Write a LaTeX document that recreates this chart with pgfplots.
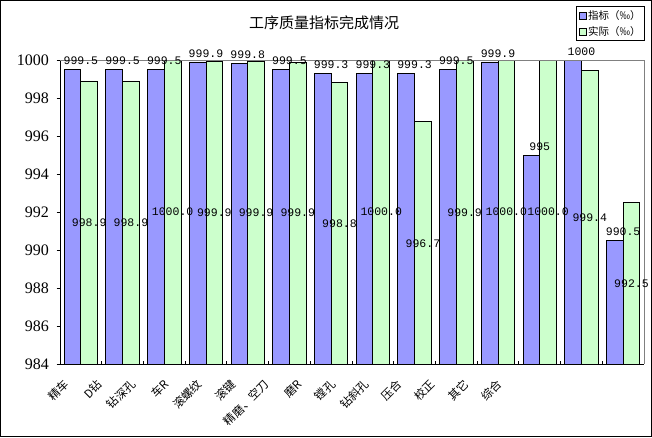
\documentclass[border=0pt]{standalone}
\usepackage{fontspec}
\setmainfont{Liberation Serif}
\newfontfamily\cjk{Noto Sans CJK SC}
\newfontfamily\mono{Liberation Mono}
\usepackage{pgfplots}
\pgfplotsset{compat=1.18}
\usepackage{pgfplotstable}
\definecolor{zhibiao}{HTML}{9999FF}
\definecolor{shiji}{HTML}{CCFFCC}

\pgfplotstableread{
x y lab
0 999.5 999.5
1 999.5 999.5
2 999.5 999.5
3 999.9 999.9
4 999.8 999.8
5 999.5 999.5
6 999.3 999.3
7 999.3 999.3
8 999.3 999.3
9 999.5 999.5
10 999.9 999.9
11 995 995
12 1000 1000
13 990.5 990.5
}\idx

\pgfplotstableread{
x y mid lab
0 998.9 991.45 998.9
1 998.9 991.45 998.9
2 1000.0 992.0 1000.0
3 999.95 991.95 999.9
4 999.95 991.95 999.9
5 999.88 991.95 999.9
6 998.83 991.4 998.8
7 1000.0 992.0 1000.0
8 996.75 990.35 996.7
9 999.96 991.95 999.9
10 1000.0 992.0 1000.0
11 1000.0 992.0 1000.0
12 999.45 991.7 999.4
13 992.5 988.25 992.5
}\act

\begin{document}
\begin{tikzpicture}
\useasboundingbox (0,0) rectangle (652pt,437pt);
\draw[black, line width=1pt] (0.5pt,0.5pt) rectangle (651.5pt,436.5pt);
\node[font=\cjk\fontsize{15}{18}\selectfont] at (324pt,414pt) {工序质量指标完成情况};
\begin{axis}[
  at={(60pt,73pt)}, anchor=south west,
  scale only axis, width=584pt, height=304pt,
  xmin=-0.5, xmax=13.5, ymin=984, ymax=1000,
  axis lines=left, axis line style={-, black, line width=1pt},
  clip=false,
  ytick={984,986,...,1000},
  yticklabel style={font=\fontsize{16}{18}\selectfont, xshift=-4pt},
  /pgf/number format/assume math mode=true,
  /pgf/number format/1000 sep={},
  tick align=outside,
  major tick length=3.5pt,
  tick style={black, line width=0.8pt},
  xtick={0.5,1.5,...,12.5},
  xticklabels={},
  xtick style={yshift=3.5pt},
  extra x ticks={-0.492,0.306,1.105,1.903,2.701,3.500,4.298,5.096,5.894,6.693,7.491,8.289,9.088,9.886},
  extra x tick labels={精车,D钻,钻深孔,车R,滚螺纹,滚键,精磨、空刀,磨R,镗孔,钻斜孔,压合,校正,其它,综合},
  extra x tick style={major tick length=0pt, xticklabel style={rotate=45, anchor=north east, inner sep=0pt, xshift=-8.34pt, yshift=-12pt, font=\cjk\fontsize{11.5}{13}\selectfont}},
  legend style={at={(1,1)}, anchor=south east, xshift=1pt, yshift=19pt, draw=black, line width=0.8pt,
    font=\cjk\fontsize{10.5}{12}\selectfont, inner sep=2pt, row sep=1pt, cells={anchor=west}},
  legend image code/.code={\draw[#1, draw=black, line width=0.6pt] (0pt,-3.5pt) rectangle (7pt,3.5pt);},
  nodes near coords style={font=\mono\fontsize{11.5}{13}\selectfont, text=black},
]
\addplot[ybar, bar width=0.4, bar shift=-0.2, fill=zhibiao, draw=black, line width=0.8pt,
  nodes near coords, point meta=explicit symbolic,
  every node near coord/.append style={anchor=south, yshift=1pt}]
  table[x=x, y=y, meta=lab]{\idx};
\addlegendentry{指标（‰）}
\addplot[ybar, bar width=0.4, bar shift=0.2, fill=shiji, draw=black, line width=0.8pt]
  table[x=x, y=y]{\act};
\addlegendentry{实际（‰）}
\addplot[draw=none, mark=none, forget plot, nodes near coords, point meta=explicit symbolic,
  every node near coord/.append style={anchor=center}]
  table[x expr=\thisrow{x}+0.2, y=mid, meta=lab]{\act};
\draw[gray, line width=0.8pt] (rel axis cs:0,1) -- (rel axis cs:1,1) -- (rel axis cs:1,0);
\end{axis}
\end{tikzpicture}
\end{document}
